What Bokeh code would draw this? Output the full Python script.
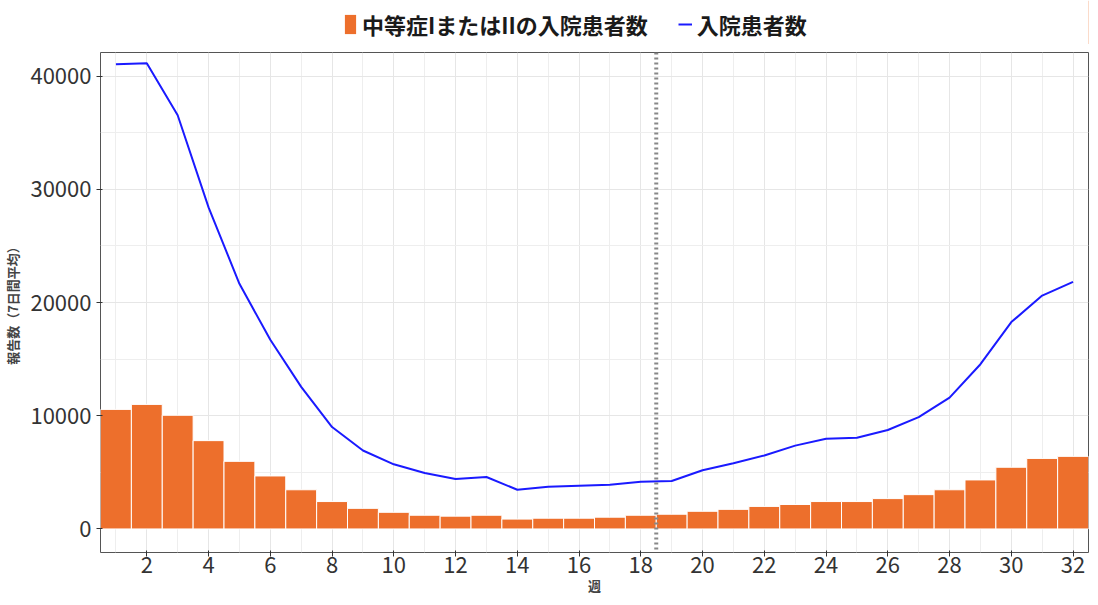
from bokeh.plotting import figure
from bokeh.layouts import column
from bokeh.models import Range1d, Span, Legend, LegendItem, FixedTicker
from bokeh.embed import file_html
from bokeh.resources import INLINE

weeks = list(range(1, 33))
moderate = [10560, 11000, 10040, 7800, 5970, 4680, 3460, 2420, 1820, 1470, 1210, 1130, 1210, 870, 950, 950,
            1040, 1210, 1300, 1560, 1730, 1990, 2160, 2420, 2420, 2680, 3030, 3460, 4330, 5450, 6230, 6410]
hosp = [41040, 41130, 36540, 28400, 21650, 16710, 12550, 9000, 6930, 5710, 4940, 4420, 4590, 3460, 3720, 3810,
        3900, 4160, 4240, 5190, 5800, 6490, 7360, 7970, 8050, 8740, 9870, 11600, 14550, 18270, 20610, 21820]
x_ticks = list(range(2, 33, 2))
y_ticks = [0, 10000, 20000, 30000, 40000]
BAR = "#ed6f2c"
LINE = "#1a1aff"

F = "Noto Sans CJK JP"
p = figure(width=1090, height=553, output_backend="svg", toolbar_location=None,
           x_range=Range1d(0.5, 32.5), y_range=Range1d(-2080, 42080))
p.background_fill_color = "white"
p.outline_line_color = "#555555"
p.min_border_top = 8
p.min_border_left = 100
p.min_border_right = 2
p.vbar(x=weeks, top=moderate, width=1.0, fill_color=BAR, line_color="white", line_width=1)
p.line(weeks, hosp, line_color=LINE, line_width=2)
p.add_layout(Span(location=18.5, dimension="height", line_color="#888888", line_dash="2 3", line_width=4))
p.xaxis.ticker = FixedTicker(ticks=x_ticks, minor_ticks=list(range(1, 33, 2)))
p.yaxis.ticker = FixedTicker(ticks=y_ticks, minor_ticks=[5000, 15000, 25000, 35000])
p.xgrid.minor_grid_line_color = "#eeeeee"
p.ygrid.minor_grid_line_color = "#eeeeee"
p.xgrid.grid_line_color = "#e6e6e6"
p.ygrid.grid_line_color = "#e6e6e6"
for ax in (p.xaxis, p.yaxis):
    ax.major_label_text_font = F
    ax.major_label_text_font_size = "22px"
    ax.major_label_text_color = "#333333"
    ax.axis_line_color = None
    ax.minor_tick_line_color = None
    ax.major_tick_line_color = "#333333"
    ax.major_tick_out = 4
    ax.axis_label_text_font = F
    ax.axis_label_text_font_style = "bold"
    ax.axis_label_text_font_size = "13px"
p.xaxis.axis_label = "週"
p.yaxis.axis_label = "報告数（7日間平均）"
p.xaxis.axis_label_standoff = 0
p.xaxis.major_label_standoff = 0

lf = figure(width=1090, height=44, output_backend="svg", toolbar_location=None,
            x_range=Range1d(0, 1), y_range=Range1d(0, 1), min_border=0)
lf.axis.visible = False
lf.grid.visible = False
lf.outline_line_color = None
r1 = lf.vbar(x=[5], top=[5], width=1, fill_color=BAR, line_color=None)
r2 = lf.line([5, 6], [5, 5], line_color=LINE, line_width=2)
leg = Legend(items=[LegendItem(label="中等症IまたはIIの入院患者数", renderers=[r1]),
                    LegendItem(label="入院患者数", renderers=[r2])],
             orientation="horizontal", location=(243, 4), border_line_color=None,
             background_fill_alpha=0,
             label_text_font=F, label_text_font_size="22px", label_text_font_style="bold",
             label_text_color="#1a1a1a",
             glyph_width=14, glyph_height=24, spacing=30, margin=0, padding=0)
lf.add_layout(leg)
lf.min_border_left = 0
open("out.html", "w").write(file_html(column(lf, p, spacing=0), INLINE))
